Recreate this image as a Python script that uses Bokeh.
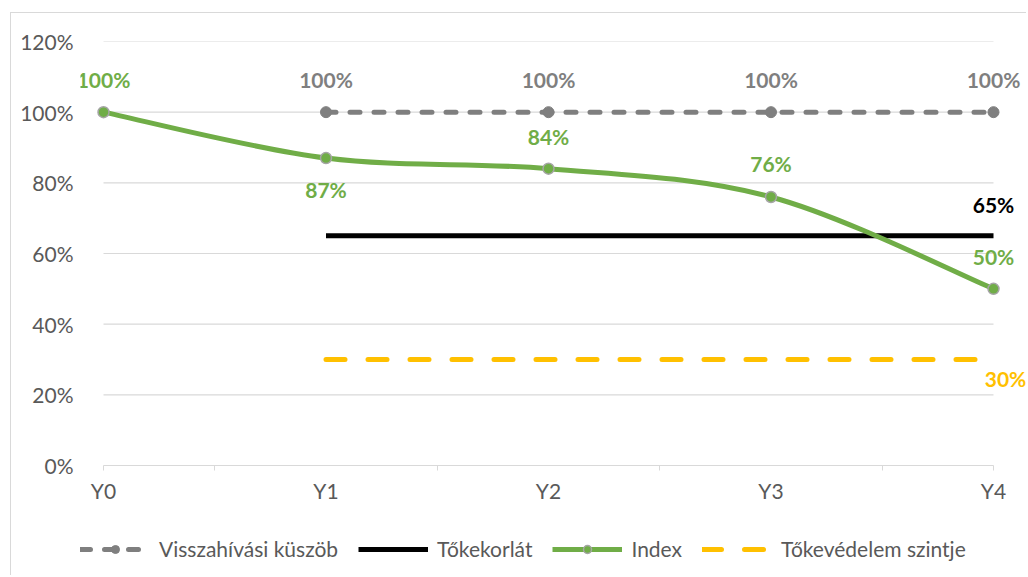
from bokeh.plotting import figure
from bokeh.models import (ColumnDataSource, FixedTicker, NumeralTickFormatter, Legend,
                          LegendItem, Range1d, LabelSet)
from bokeh.core.properties import value
from bokeh.embed import file_html
from bokeh.resources import INLINE

# ---- data ----
categories = ["Y0", "Y1", "Y2", "Y3", "Y4"]
index_vals = [1.00, 0.87, 0.84, 0.76, 0.50]
callback_cats = ["Y1", "Y2", "Y3", "Y4"]
callback_vals = [1.00, 1.00, 1.00, 1.00]
cap_cats = ["Y1", "Y4"]
cap_vals = [0.65, 0.65]
protect_cats = ["Y1", "Y4"]
protect_vals = [0.30, 0.30]
y_ticks = [0, 0.2, 0.4, 0.6, 0.8, 1.0, 1.2]

# label placement (screen offsets, px; positive = up)
index_label_offsets = [33, -31, 32, 33, 32]

FONT = "Lato"
FS = "21px"
GREEN = "#70AD47"
GRAY = "#7F7F7F"
YELLOW = "#FFC000"
TXT = "#595959"
GRID = "#D9D9D9"

pos = {c: i for i, c in enumerate(categories)}
last = len(categories) - 1

# layout (pixels)
PX_PER_CAT = 222.5
PAD_L, PAD_R = 23, 33
FRAME_W = int(last * PX_PER_CAT + PAD_L + PAD_R)
AXIS_H = 424                      # pixel height of 0..120 %
BELOW_H = 110                     # room under the 0 % line for axis labels + legend
px_per_unit = AXIS_H / y_ticks[-1]

p = figure(frame_width=FRAME_W, frame_height=AXIS_H + BELOW_H, output_backend="svg",
           toolbar_location=None,
           x_range=Range1d(-PAD_L / PX_PER_CAT, last + PAD_R / PX_PER_CAT),
           y_range=Range1d(-BELOW_H / px_per_unit, y_ticks[-1]),
           min_border_left=69, min_border_right=0, min_border_top=28,
           min_border_bottom=0)
p.margin = (12, 0, 0, 10)
p.styles = {"border-left": "1px solid #D9D9D9", "border-top": "1px solid #D9D9D9"}
p.outline_line_color = None
p.background_fill_color = "white"

# axes
p.xaxis.fixed_location = 0
p.xaxis.ticker = FixedTicker(ticks=list(range(len(categories))),
                             minor_ticks=[0, 0.5, 1.5, 2.5, 3.5, 4])
p.xaxis.major_label_overrides = {i: c for i, c in enumerate(categories)}
p.xaxis.major_tick_out = 0
p.xaxis.major_tick_in = 0
p.xaxis.minor_tick_out = 5
p.xaxis.minor_tick_in = 0
p.xaxis.minor_tick_line_color = GRID
p.xaxis.axis_line_color = None
p.xaxis.major_label_standoff = 7
p.yaxis.ticker = FixedTicker(ticks=y_ticks)
p.yaxis.formatter = NumeralTickFormatter(format="0%")
p.yaxis.axis_line_color = None
p.yaxis.major_tick_line_color = None
p.yaxis.minor_tick_line_color = None
p.yaxis.major_label_standoff = 1
for ax in (p.xaxis, p.yaxis):
    ax.major_label_text_font = FONT
    ax.major_label_text_font_size = FS
    ax.major_label_text_color = TXT
p.xgrid.grid_line_color = None
p.ygrid.grid_line_color = None

# horizontal gridlines spanning the category extent
p.segment(x0=[0] * len(y_ticks), x1=[last] * len(y_ticks), y0=y_ticks, y1=y_ticks,
          line_color=GRID, line_width=1.2)

# series 1: callback threshold
cb_x = [pos[c] for c in callback_cats]
cb_line = p.line(cb_x, callback_vals, line_color=GRAY, line_width=5,
                 line_dash="10 14", line_cap="round")
cb_pts = p.scatter(cb_x, callback_vals, size=11, fill_color=GRAY, line_color=GRAY)

# series 2: capital barrier
cap_line = p.line([pos[c] for c in cap_cats], cap_vals, line_color="black", line_width=5)

# series 3: index (smoothed like Excel)
n = len(index_vals)
xs = list(range(n))
def pt(i):
    i = max(0, min(n - 1, i))
    return xs[i], index_vals[i]
bz = dict(x0=[], y0=[], x1=[], y1=[], cx0=[], cy0=[], cx1=[], cy1=[])
for i in range(n - 1):
    xa, ya = pt(i); xb, yb = pt(i + 1)
    xp, yp = pt(i - 1); xn, yn = pt(i + 2)
    bz["x0"].append(xa); bz["y0"].append(ya)
    bz["x1"].append(xb); bz["y1"].append(yb)
    bz["cx0"].append(xa + (xb - xp) / 6); bz["cy0"].append(ya + (yb - yp) / 6)
    bz["cx1"].append(xb - (xn - xa) / 6); bz["cy1"].append(yb - (yn - ya) / 6)
p.bezier(source=ColumnDataSource(bz), x0="x0", y0="y0", x1="x1", y1="y1",
         cx0="cx0", cy0="cy0", cx1="cx1", cy1="cy1",
         line_color=GREEN, line_width=5, line_cap="round")
idx_legend_line = p.line([0], [float("nan")], line_color=GREEN, line_width=5)
idx_pts = p.scatter(xs, index_vals, size=11, fill_color=GREEN, line_color="#A5A5A5",
                    line_width=1.5)

# series 4: capital protection level
pr_line = p.line([pos[c] for c in protect_cats], protect_vals, line_color=YELLOW,
                 line_width=5, line_dash="19 23", line_cap="round")

# data labels
def pct(v):
    return f"{round(v * 100)}%"

lab_kw = dict(text_font=value(FONT), text_font_size=value(FS), text_font_style="bold",
              text_align="center", text_baseline="middle")

def labels(x, y, color, yoff, xoff=0):
    src = ColumnDataSource(dict(x=x, y=y, t=[pct(v) for v in y],
                                yo=yoff if isinstance(yoff, list) else [yoff] * len(x)))
    p.add_layout(LabelSet(x="x", y="y", text="t", source=src, y_offset="yo",
                          x_offset=xoff, text_color=color, **lab_kw))

labels(xs, index_vals, GREEN, index_label_offsets)
labels(cb_x, callback_vals, GRAY, 33)
labels([pos[cap_cats[-1]]], [cap_vals[-1]], "black", 31)
labels([pos[protect_cats[-1]]], [protect_vals[-1]], YELLOW, -19, 12)

legend = Legend(items=[
    LegendItem(label="Visszahívási küszöb", renderers=[cb_line, cb_pts]),
    LegendItem(label="Tőkekorlát", renderers=[cap_line]),
    LegendItem(label="Index", renderers=[idx_legend_line, idx_pts]),
    LegendItem(label="Tőkevédelem szintje", renderers=[pr_line]),
], orientation="horizontal", location=(0, 14))
legend.label_text_font = FONT
legend.label_text_font_size = FS
legend.label_text_color = TXT
legend.glyph_width = 70
legend.label_standoff = 9
legend.spacing = 20
legend.border_line_color = None
legend.background_fill_alpha = 0
legend.padding = 0
legend.margin = 0
p.add_layout(legend, "center")

open("out.html", "w").write(file_html(p, INLINE))
